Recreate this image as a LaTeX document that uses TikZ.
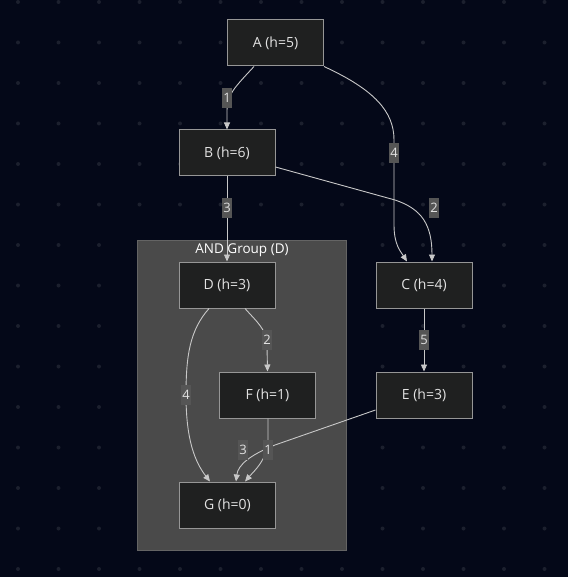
\documentclass[tikz,border=0pt]{standalone}
\usepackage{fontspec}
\setmainfont{Open Sans}
\usetikzlibrary{arrows.meta,calc}
\definecolor{bgc}{RGB}{4,8,24}
\definecolor{dotc}{RGB}{28,32,46}
\definecolor{nodefill}{RGB}{31,32,32}
\definecolor{nodeline}{RGB}{150,150,150}
\definecolor{nodetext}{RGB}{226,226,226}
\definecolor{grpfill}{RGB}{74,74,74}
\definecolor{grpline}{RGB}{100,100,100}
\definecolor{edgec}{RGB}{200,200,200}
\definecolor{lblfill}{RGB}{85,85,85}
\tikzset{
  hnode/.style={draw=nodeline, line width=1pt, fill=nodefill, text=nodetext,
    minimum width=96pt, minimum height=46pt, inner sep=0pt,
    font=\fontsize{14}{16}\selectfont},
  lbl/.style={fill=lblfill, text=nodetext, inner xsep=1pt, inner ysep=0pt,
    minimum height=20pt, font=\fontsize{13}{15}\selectfont},
  edge/.style={draw=edgec, line width=0.9pt,
    -{Triangle[width=6pt,length=7pt,fill=edgec]}},
}
\begin{document}
\begin{tikzpicture}[x=1pt,y=-1pt]
\fill[bgc] (0,0) rectangle (568,577);
\useasboundingbox (0,0) rectangle (568,577);
\foreach \i in {0,...,13} {
  \foreach \j in {0,...,14} {
    \fill[dotc] (18+40.5*\i, 2+40.5*\j) circle (2pt);
  }
}
% group
\node[draw=grpline, fill=grpfill, line width=1pt, minimum width=209pt, minimum height=310pt, inner sep=0pt] (grp) at (241.5,395) {};
\node[text=white, font=\fontsize{13.5}{15}\selectfont] (grplbl) at (242,250) {AND Group (D)};
% nodes
\node[hnode] (A) at (275.5,43) {A (h=5)};
\node[hnode] (B) at (227,153) {B (h=6)};
\node[hnode] (C) at (424,285) {C (h=4)};
\node[hnode] (D) at (227,285) {D (h=3)};
\node[hnode] (F) at (267.5,395) {F (h=1)};
\node[hnode] (E) at (424,395) {E (h=3)};
\node[hnode] (G) at (227.5,505) {G (h=0)};
% edges
\draw[edge] ($(A.south)+(-21.5,0)$) .. controls (234,88) and (227,95) .. (227,110) -- (B.north);
\draw[edge] (A.south east) .. controls (375,90) and (394,112) .. (394,140) -- (394,225) .. controls (394,245) and (401,252) .. ($(C.north)+(-17,0)$);
\draw[edge] ($(B.east)+(0,14)$) -- (395,200) .. controls (422,209) and (432,225) .. ($(C.north)+(8,0)$);
\draw[edge] (B.south) -- (D.north);
\draw[edge] (C.south) -- (E.north);
\draw[edge] ($(D.south)+(18,0)$) .. controls (257,322) and (267,330) .. (267,345) -- (F.north);
\draw[edge] ($(D.south)+(-18,0)$) .. controls (190,330) and (186,355) .. (186,395) .. controls (186,440) and (195,462) .. ($(G.north)+(-17.5,0)$);
\draw[edge] ($(F.south)+(0.5,0)$) -- (268,440) .. controls (267,460) and (255,470) .. ($(G.north)+(17.5,0)$);
\draw[edge] ($(E.west)+(0,15)$) -- (275,445) .. controls (250,455) and (238,465) .. ($(G.north)+(8.5,0)$);
% labels
\node[lbl] (l1) at (227,98) {1};
\node[lbl] (l4) at (394,153) {4};
\node[lbl] (l3) at (227,208) {3};
\node[lbl] (l2) at (434,208) {2};
\node[lbl] (l5) at (424,340) {5};
\node[lbl] (l2b) at (267,340) {2};
\node[lbl] (l4b) at (186,395) {4};
\node[lbl] (l1b) at (268,450) {1};
\node[lbl] (l3b) at (243,450) {3};
\end{tikzpicture}
\end{document}
